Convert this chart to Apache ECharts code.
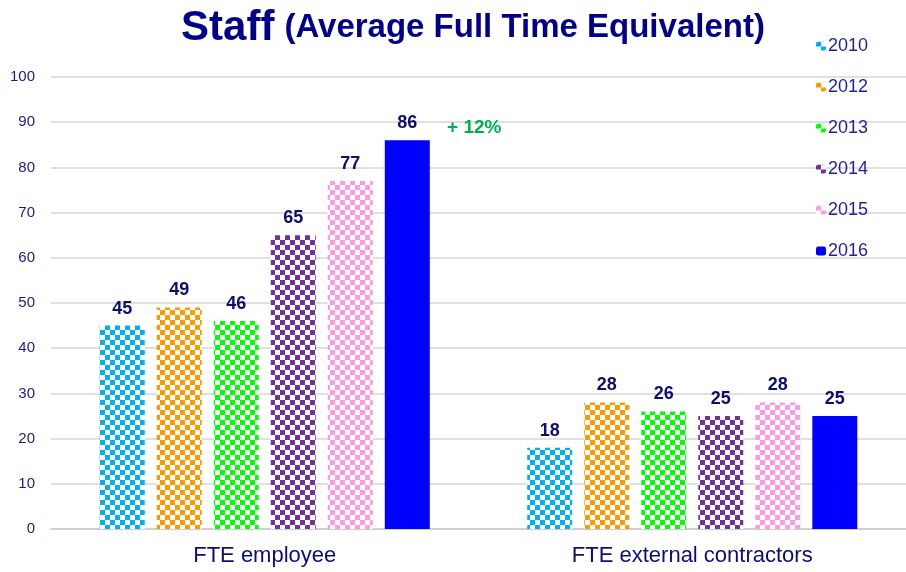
<!DOCTYPE html>
<html>
<head>
<meta charset="utf-8">
<script src="https://cdn.jsdelivr.net/npm/echarts@6/dist/echarts.min.js"></script>
<style>html,body{margin:0;padding:0;background:#fff}#c{width:906px;height:572px}</style>
</head>
<body>
<div id="c"></div>
<script>
const categories = ['FTE employee', 'FTE external contractors'];
const years = ['2010', '2012', '2013', '2014', '2015', '2016'];
const v2010 = [45, 18];
const v2012 = [49, 28];
const v2013 = [46, 26];
const v2014 = [65, 25];
const v2015 = [77, 28];
const v2016 = [86, 25];
const yTicks = [0, 10, 20, 30, 40, 50, 60, 70, 80, 90, 100];
const growthNote = '+ 12%';

const seriesValues = [v2010, v2012, v2013, v2014, v2015, v2016];
const colors = ['#00b0f0', '#ff9900', '#00ff00', '#7030a0', '#ff99e6', '#0000ff'];
const checkered = [true, true, true, true, true, false];
const FONT = 'Liberation Sans, Arial, sans-serif';

function checker(color) {
  const c = document.createElement('canvas');
  c.width = 10; c.height = 10;
  const g = c.getContext('2d');
  g.fillStyle = '#ffffff'; g.fillRect(0, 0, 10, 10);
  g.fillStyle = color;
  g.fillRect(0, 0, 5, 5);
  g.fillRect(5, 5, 5, 5);
  return { image: c, repeat: 'repeat' };
}

const labelColor = '#0d0d6e';
const series = years.map((y, i) => {
  const s = {
    name: y,
    type: 'bar',
    data: seriesValues[i],
    barWidth: 45,
    barGap: '26.7%',
    itemStyle: { color: checkered[i] ? checker(colors[i]) : colors[i] },
    label: {
      show: true, position: 'top', distance: 8,
      color: labelColor, fontWeight: 'bold', fontSize: 18, fontFamily: FONT
    }
  };
  if (i === 5) {
    s.markPoint = {
      symbol: 'circle', symbolSize: 1,
      itemStyle: { color: 'rgba(0,0,0,0)' },
      data: [{ coord: [categories[0], v2016[0]], value: growthNote }],
      label: {
        show: true, position: 'inside', formatter: growthNote, offset: [67, -13],
        color: '#00b050', fontWeight: 'bold', fontSize: 19, fontFamily: FONT
      }
    };
  }
  return s;
});

const chart = echarts.init(document.getElementById('c'), null, { renderer: 'canvas' });
chart.setOption({
  backgroundColor: '#ffffff',
  animation: false,
  title: {
    text: '{a|Staff}  {b|(Average Full Time Equivalent)}',
    left: 468, textAlign: 'center', top: 2,
    textStyle: {
      rich: {
        a: { fontSize: 42, fontWeight: 'bold', color: '#00008b', fontFamily: FONT },
        b: { fontSize: 33, fontWeight: 'bold', color: '#00008b', fontFamily: FONT }
      }
    }
  },
  legend: {
    orient: 'vertical', left: 811, top: 32,
    itemWidth: 10, itemHeight: 9, itemGap: 23,
    data: years,
    textStyle: { color: '#1f1f99', fontSize: 18, fontFamily: FONT, padding: [0, 0, 0, -3] }
  },
  grid: { left: 51, right: 0, top: 77, bottom: 43, containLabel: false },
  xAxis: {
    type: 'category', data: categories,
    axisTick: { show: false },
    axisLine: { lineStyle: { color: '#d0d0d0', width: 2 } },
    axisLabel: { color: '#0d0d7a', fontSize: 22, margin: 16, fontFamily: FONT }
  },
  yAxis: {
    type: 'value', min: yTicks[0], max: yTicks[yTicks.length - 1], interval: 10,
    axisLine: { show: false }, axisTick: { show: false },
    splitLine: { lineStyle: { color: '#d6d6d6', width: 1.5 } },
    axisLabel: { color: '#1a1a8a', fontSize: 15, margin: 16, fontFamily: FONT }
  },
  series: series
});
</script>
</body>
</html>
